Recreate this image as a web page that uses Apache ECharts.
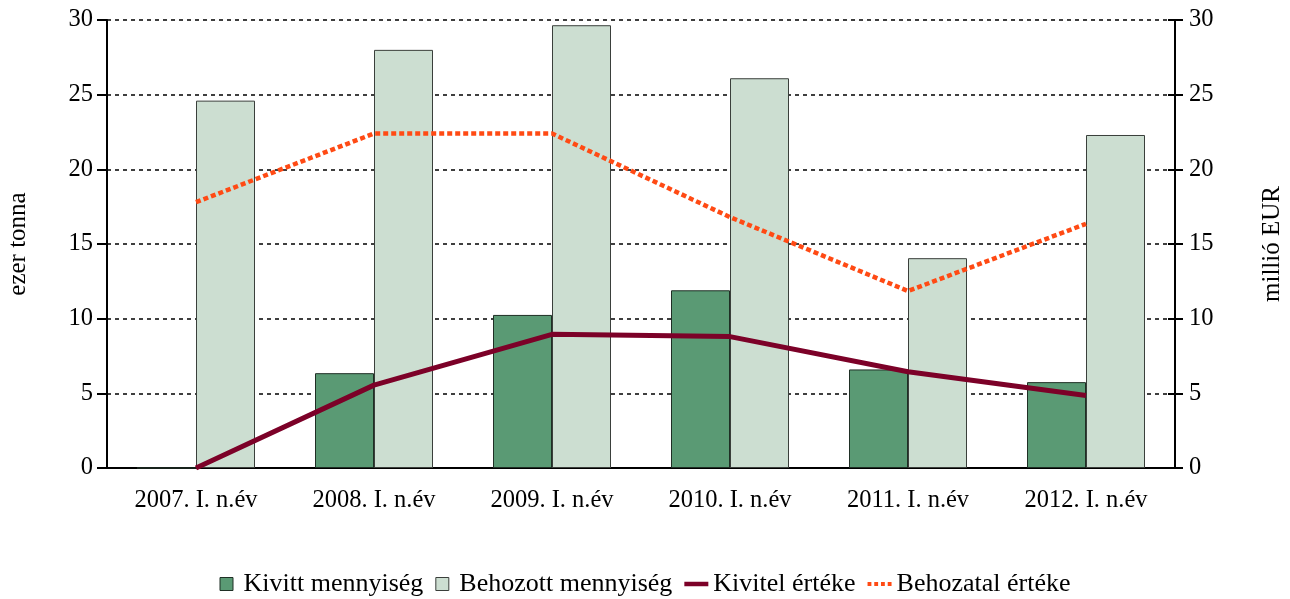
<!DOCTYPE html>
<html>
<head>
<meta charset="utf-8">
<script src="https://cdn.jsdelivr.net/npm/echarts@6/dist/echarts.min.js"></script>
<style>
  html, body { margin: 0; padding: 0; background: #fff; }
  #chart { width: 1290px; height: 599px; }
</style>
</head>
<body>
<div id="chart"></div>
<script>
// adatok
const categories = ["2007. I. n.év", "2008. I. n.év", "2009. I. n.év", "2010. I. n.év", "2011. I. n.év", "2012. I. n.év"];
const kivittMennyiseg = [0, 6.35, 10.25, 11.9, 6.6, 5.75];
const behozottMennyiseg = [24.6, 28.0, 29.65, 26.1, 14.05, 22.3];
const kivitelErteke = [0, 5.55, 8.95, 8.8, 6.45, 4.85];
const behozatalErteke = [17.8, 22.4, 22.4, 16.8, 11.85, 16.35];

const font = "Liberation Serif";
const chart = echarts.init(document.getElementById("chart"));
chart.setOption({
  animation: false,
  textStyle: { fontFamily: font, color: "#000" },
  grid: { left: 107, right: 115, top: 20, bottom: 131, outerBoundsMode: "none", containLabel: false },
  legend: {
    bottom: -3,
    left: "center",
    itemGap: 12,
    itemWidth: 24,
    itemHeight: 13,
    textStyle: { fontFamily: font, fontSize: 26, color: "#000" },
    data: [
      { name: "Kivitt mennyiség", icon: "path://M0,0h12v12h-12z", itemStyle: { borderColor: "#1f2f25", borderWidth: 1 } },
      { name: "Behozott mennyiség", icon: "path://M0,0h12v12h-12z", itemStyle: { borderColor: "#3a3f3b", borderWidth: 1 } },
      { name: "Kivitel értéke", icon: "path://M0,0h24v4.5h-24z" },
      { name: "Behozatal értéke", icon: "path://M0,0h4v4h-4zM7,0h4v4h-4zM14,0h4v4h-4zM21,0h4v4h-4z" }
    ]
  },
  xAxis: {
    type: "category",
    data: categories,
    axisLine: { lineStyle: { color: "#000", width: 2 } },
    axisTick: { length: 10, lineStyle: { color: "#000", width: 2 } },
    axisLabel: { fontFamily: font, fontSize: 24.5, color: "#000", margin: 20 }
  },
  yAxis: [
    {
      type: "value", min: 0, max: 30, interval: 5,
      name: "ezer tonna", nameLocation: "middle", nameGap: 76, nameRotate: 90,
      nameTextStyle: { fontFamily: font, fontSize: 25, color: "#000" },
      axisLine: { show: true, lineStyle: { color: "#000", width: 2 } },
      axisTick: { show: true, length: 10, lineStyle: { color: "#000", width: 2 } },
      axisLabel: { fontFamily: font, fontSize: 24.5, color: "#000", margin: 14 },
      splitLine: { lineStyle: { color: "#000", type: [4, 4], width: 1.5 } }
    },
    {
      type: "value", min: 0, max: 30, interval: 5, position: "right",
      name: "millió EUR", nameLocation: "middle", nameGap: 85, nameRotate: 90,
      nameTextStyle: { fontFamily: font, fontSize: 25, color: "#000" },
      axisLine: { show: true, lineStyle: { color: "#000", width: 2 } },
      axisTick: { show: true, length: 8, lineStyle: { color: "#000", width: 2 } },
      axisLabel: { fontFamily: font, fontSize: 24.5, color: "#000", margin: 14 },
      splitLine: { show: false }
    },
    {
      // belső osztásjelek a jobb tengelyen
      type: "value", min: 0, max: 30, interval: 5, position: "right",
      axisLine: { show: false },
      axisTick: { show: true, inside: true, length: 7, lineStyle: { color: "#000", width: 2 } },
      axisLabel: { show: false },
      splitLine: { show: false }
    }
  ],
  series: [
    {
      name: "Kivitt mennyiség", type: "bar", data: kivittMennyiseg,
      barWidth: 59, barGap: "0%",
      itemStyle: { color: "#5a9a74", borderColor: "#1f2f25", borderWidth: 1 }
    },
    {
      name: "Behozott mennyiség", type: "bar", data: behozottMennyiseg,
      barWidth: 59, barGap: "0%",
      itemStyle: { color: "#ccded1", borderColor: "#3a3f3b", borderWidth: 1 }
    },
    {
      name: "Kivitel értéke", type: "line", yAxisIndex: 1, data: kivitelErteke,
      symbol: "none", z: 5,
      lineStyle: { color: "#7c0128", width: 5 },
      itemStyle: { color: "#7c0128" }
    },
    {
      name: "Behozatal értéke", type: "line", yAxisIndex: 1, data: behozatalErteke,
      symbol: "none", z: 5,
      lineStyle: { color: "#ff4a14", width: 4.5, type: [5, 3] },
      itemStyle: { color: "#ff4a14" }
    }
  ]
});
</script>
</body>
</html>
